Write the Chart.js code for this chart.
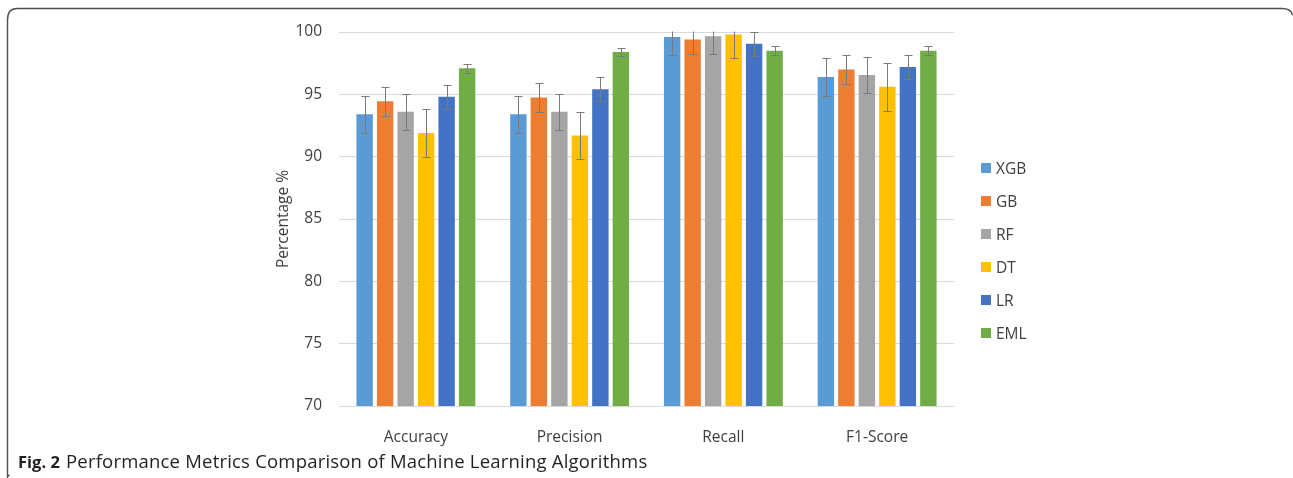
<!DOCTYPE html>
<html>
<head>
<meta charset="utf-8">
<script src="https://cdn.jsdelivr.net/npm/chart.js@4.4.1/dist/chart.umd.min.js"></script>
<style>
  html, body { margin: 0; padding: 0; background: #ffffff; }
  body { width: 1293px; height: 478px; position: relative; overflow: hidden; font-family: "Open Sans", sans-serif; }
  #wrap { position: absolute; left: 0; top: 0; width: 1293px; height: 478px; }
  #frame { position: absolute; left: 0; top: 0; }
  #legend { position: absolute; left: 981px; top: 158px; margin: 0; padding: 0; list-style: none; }
  #legend li { height: 33.1px; display: flex; align-items: flex-start; font-size: 15.5px; color: #404040; line-height: 20px; }
  #legend .sw { width: 10px; height: 10px; margin: 5px 5px 0 0; display: inline-block; }
  #caption { position: absolute; left: 18px; top: 448px; color: #231f20; white-space: nowrap; line-height: 26px; }
  #caption b { font-weight: 700; font-size: 16.5px; margin-right: 2px; }
  #caption span { font-size: 18.5px; letter-spacing: 0.2px; }
</style>
</head>
<body>
<svg id="frame" width="1293" height="478">
  <path d="M 7.5 478 Q 7.5 474 9.5 476 M 7.5 476 L 7.5 20 Q 7.5 8.5 17 8.5 L 1282 8.5 Q 1291 8.5 1292.5 15"
        fill="none" stroke="#505050" stroke-width="1.4"/>
</svg>
<div id="wrap"><canvas id="chart" width="1293" height="478"></canvas></div>
<ul id="legend"></ul>
<div id="caption"><b>Fig. 2</b> <span>Performance Metrics Comparison of Machine Learning Algorithms</span></div>
<script>
// Metric categories on the x axis
const categories = ["Accuracy", "Precision", "Recall", "F1-Score"];

// Mean scores (%) per algorithm
const xgb = [93.4, 93.4, 99.6, 96.4];
const gb  = [94.45, 94.75, 99.4, 97.0];
const rf  = [93.6, 93.6, 99.65, 96.55];
const dt  = [91.9, 91.7, 99.8, 95.6];
const lr  = [94.8, 95.4, 99.05, 97.2];
const eml = [97.1, 98.4, 98.5, 98.5];

// Standard deviations shown as error bars
const xgbErr = [1.5, 1.5, 1.46, 1.5];
const gbErr  = [1.17, 1.17, 1.17, 1.18];
const rfErr  = [1.45, 1.45, 1.44, 1.44];
const dtErr  = [1.9, 1.9, 1.92, 1.92];
const lrErr  = [0.96, 0.97, 0.96, 0.96];
const emlErr = [0.36, 0.35, 0.37, 0.37];

// Y axis range and step
const yMin = 70;
const yMax = 100;
const yStep = 5;

const seriesNames = ["XGB", "GB", "RF", "DT", "LR", "EML"];
const seriesValues = [xgb, gb, rf, dt, lr, eml];
const seriesErrors = [xgbErr, gbErr, rfErr, dtErr, lrErr, emlErr];
const seriesColors = ["#5B9BD5", "#ED7D31", "#A5A5A5", "#FFC000", "#4472C4", "#70AD47"];

const datasets = seriesNames.map((name, i) => ({
  label: name,
  data: seriesValues[i],
  errors: seriesErrors[i],
  backgroundColor: seriesColors[i],
  borderWidth: 0,
  barPercentage: 0.8,
  categoryPercentage: 0.8
}));

// Draws the +/- error whiskers on each bar, clipped to the plot area
const errorBars = {
  id: "errorBars",
  afterDatasetsDraw(chart) {
    const ctx = chart.ctx;
    const y = chart.scales.y;
    const area = chart.chartArea;
    ctx.save();
    ctx.beginPath();
    ctx.rect(area.left, area.top - 0.5, area.right - area.left, area.bottom - area.top + 1);
    ctx.clip();
    ctx.strokeStyle = "#7a7a7a";
    ctx.lineWidth = 1;
    chart.data.datasets.forEach((ds, di) => {
      const meta = chart.getDatasetMeta(di);
      meta.data.forEach((bar, idx) => {
        const v = ds.data[idx];
        const e = ds.errors[idx];
        const x = Math.round(bar.x) + 0.5;
        const yHi = Math.round(y.getPixelForValue(v + e)) + 0.5;
        const yLo = Math.round(y.getPixelForValue(v - e)) + 0.5;
        const cap = 4;
        ctx.beginPath();
        ctx.moveTo(x, yHi); ctx.lineTo(x, yLo);
        ctx.moveTo(x - cap, yHi); ctx.lineTo(x + cap, yHi);
        ctx.moveTo(x - cap, yLo); ctx.lineTo(x + cap, yLo);
        ctx.stroke();
      });
    });
    ctx.restore();
  }
};

const tickFont = { family: "'Open Sans', sans-serif", size: 15.5 };

const chart = new Chart(document.getElementById("chart"), {
  type: "bar",
  data: { labels: categories, datasets },
  options: {
    responsive: false,
    animation: false,
    layout: { padding: { left: 270, right: 339, top: 32, bottom: 32 } },
    plugins: {
      legend: { display: false },
      tooltip: { enabled: false }
    },
    scales: {
      x: {
        grid: { display: false },
        border: { display: false },
        ticks: { font: tickFont, color: "#404040", padding: 14 },
        afterFit(scale) { scale.height = 40; }
      },
      y: {
        min: yMin,
        max: yMax,
        grid: { color: "#d9d9d9", lineWidth: 1, drawTicks: false },
        border: { display: false },
        ticks: { stepSize: yStep, font: tickFont, color: "#404040", padding: 17 },
        title: { display: true, text: "Percentage %", font: tickFont, color: "#404040", padding: { top: 4, bottom: 0 } },
        afterFit(scale) { scale.width = 69; }
      }
    }
  },
  plugins: [errorBars]
});

// Legend list built from the chart's datasets
const legendEl = document.getElementById("legend");
chart.data.datasets.forEach(ds => {
  const li = document.createElement("li");
  const sw = document.createElement("span");
  sw.className = "sw";
  sw.style.background = ds.backgroundColor;
  li.appendChild(sw);
  li.appendChild(document.createTextNode(ds.label));
  legendEl.appendChild(li);
});
</script>
</body>
</html>
